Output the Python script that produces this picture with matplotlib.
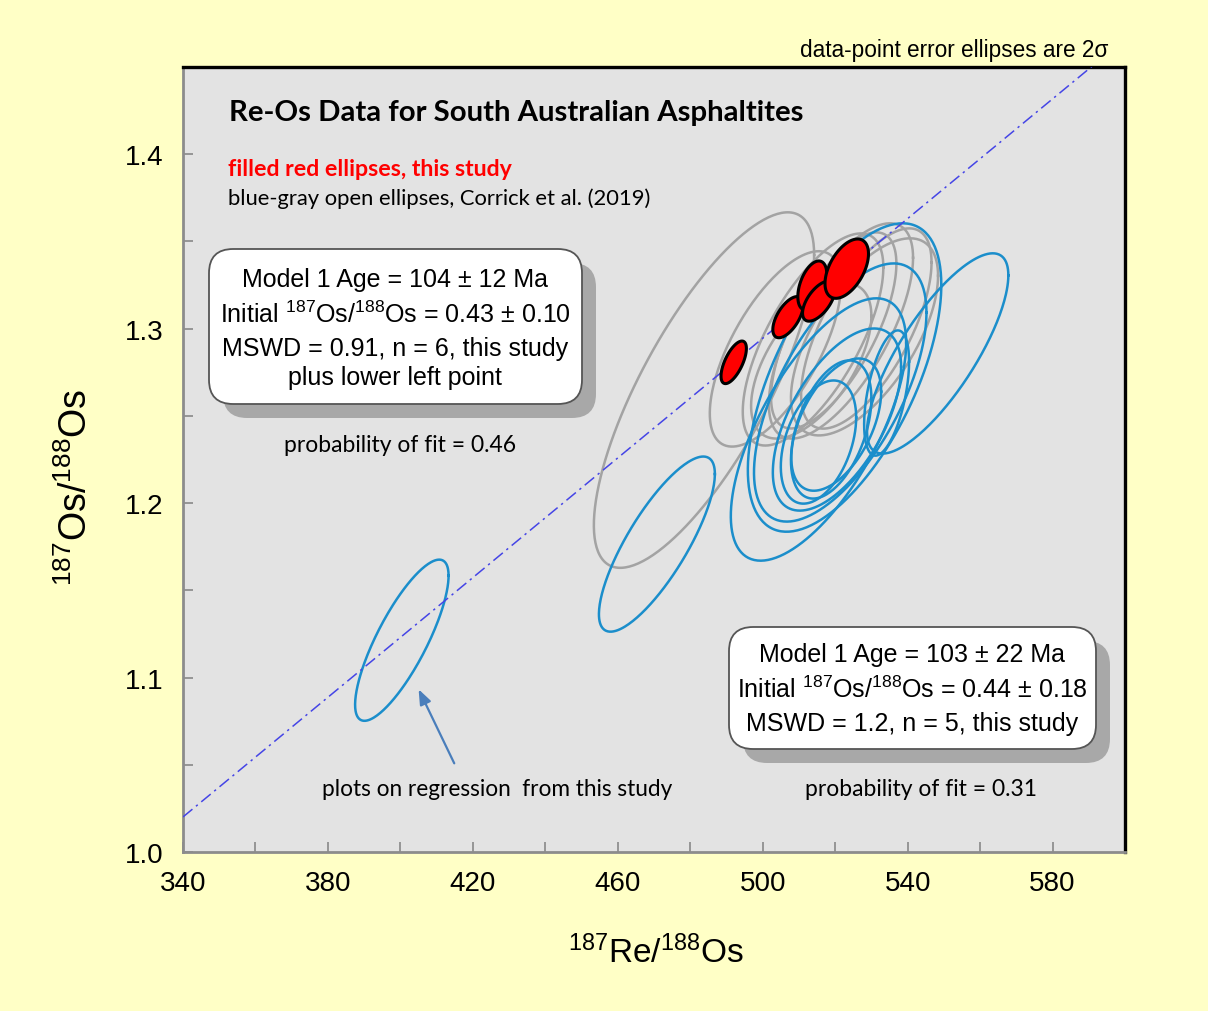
import numpy as np
import matplotlib
matplotlib.use('Agg')
import matplotlib.pyplot as plt
from matplotlib.patches import FancyBboxPatch

plt.rcParams['mathtext.default'] = 'regular'

# 2-sigma error ellipses: centre, half-widths and error correlation
red_x = [492.0, 507.0, 513.7, 515.5, 523.2]
red_y = [1.2807, 1.3066, 1.3247, 1.3158, 1.3344]
red_sx = [3.5, 4.2, 4.0, 4.5, 6.0]
red_sy = [0.0122, 0.0118, 0.0141, 0.0115, 0.0170]
red_rho = [0.65, 0.60, 0.45, 0.60, 0.50]

blue_x = [400.4, 470.8, 548.3, 515.4, 522.6, 521.4, 520.5, 520.3, 534.2, 518.9, 515.4]
blue_y = [1.1214, 1.1765, 1.2858, 1.2422, 1.2720, 1.2634, 1.2479, 1.2450, 1.2631, 1.2422, 1.2350]
blue_sx = [12.9, 16.0, 19.5, 24.2, 26.7, 23.8, 17.7, 12.4, 6.2, 11.1, 10.4]
blue_sy = [0.0462, 0.0502, 0.0574, 0.0752, 0.0884, 0.0740, 0.0522, 0.0379, 0.0359, 0.0396, 0.0353]
blue_rho = [0.80, 0.80, 0.78, 0.66, 0.60, 0.62, 0.58, 0.50, 0.50, 0.45, 0.40]

gray_x = [483.8, 503.5, 513.9, 521.6, 528.1, 528.6, 513.4, 519.6]
gray_y = [1.2648, 1.2884, 1.2938, 1.2987, 1.2953, 1.3001, 1.2815, 1.2990]
gray_sx = [30.4, 18.1, 19.4, 19.9, 20.3, 18.0, 16.6, 17.3]
gray_sy = [0.1019, 0.0560, 0.0608, 0.0617, 0.0565, 0.0574, 0.0445, 0.0562]
gray_rho = [0.76, 0.66, 0.68, 0.68, 0.62, 0.66, 0.58, 0.68]

# isochron regression
slope = 0.001715
intercept = 0.437

box1_lines = ['Model 1 Age = 104 ± 12 Ma',
              r'Initial $^{187}$Os/$^{188}$Os = 0.43 ± 0.10',
              'MSWD = 0.91, n = 6, this study',
              'plus lower left point']
box2_lines = ['Model 1 Age = 103 ± 22 Ma',
              r'Initial $^{187}$Os/$^{188}$Os = 0.44 ± 0.18',
              'MSWD = 1.2, n = 5, this study']

SANS = 'Liberation Sans'
HUMAN = 'Lato'
BLUE = '#1b8ecb'
GRAY = '#a3a3a3'


def ellipse_xy(cx, cy, sx, sy, rho, n=240):
    t = np.linspace(0, 2 * np.pi, n)
    x = cx + sx * np.cos(t)
    y = cy + sy * (rho * np.cos(t) + np.sqrt(1 - rho ** 2) * np.sin(t))
    return x, y


fig = plt.figure(figsize=(12.08, 10.12), dpi=100, facecolor='#ffffc6')
ax = fig.add_axes([183 / 1208, 1 - 853 / 1012, 942 / 1208, 785 / 1012])
ax.set_facecolor('#e3e3e3')
ax.set_xlim(340, 600)
ax.set_ylim(1.0, 1.45)

for i in range(len(gray_x)):
    ex, ey = ellipse_xy(gray_x[i], gray_y[i], gray_sx[i], gray_sy[i], gray_rho[i])
    ax.plot(ex, ey, color=GRAY, lw=1.8, zorder=2)
for i in range(len(blue_x)):
    ex, ey = ellipse_xy(blue_x[i], blue_y[i], blue_sx[i], blue_sy[i], blue_rho[i])
    ax.plot(ex, ey, color=BLUE, lw=1.8, zorder=3)

xl = np.array([340, 600])
ax.plot(xl, intercept + slope * xl, color='#4545e6', lw=1.1, ls=(0, (8, 3, 1.5, 3)), zorder=4)

for i in range(len(red_x)):
    ex, ey = ellipse_xy(red_x[i], red_y[i], red_sx[i], red_sy[i], red_rho[i])
    ax.fill(ex, ey, facecolor='#ff0000', edgecolor='black', lw=2.2, zorder=5)

ax.set_xticks(np.arange(340, 600, 40))
ax.set_xticks(np.arange(360, 600, 40), minor=True)
ax.set_yticks(np.arange(1.0, 1.41, 0.1))
ax.set_yticks(np.arange(1.05, 1.45, 0.1), minor=True)
ax.set_yticklabels(['1.0', '1.1', '1.2', '1.3', '1.4'])
ax.tick_params(which='both', direction='in', length=7, width=1.2, color='#888888',
               top=False, right=False)
ax.tick_params(axis='y', pad=14, labelsize=20)
ax.tick_params(axis='x', pad=13, labelsize=20)
for lab in ax.get_xticklabels() + ax.get_yticklabels():
    lab.set_fontfamily(SANS)
for side in ['left', 'bottom']:
    ax.spines[side].set_color('#8c8c8c')
    ax.spines[side].set_linewidth(2)
for side in ['top', 'right']:
    ax.spines[side].set_color('black')
    ax.spines[side].set_linewidth(2.4)

fig.text(656 / 1208, 1 - 953 / 1012, r'$^{187}$Re/$^{188}$Os', family=SANS, fontsize=24,
         ha='center', va='center')
fig.text(76 / 1208, 1 - 487 / 1012, r'$^{187}$Os/$^{188}$Os', family=SANS, fontsize=27,
         ha='center', va='center', rotation=90)

fig.text(229 / 1208, 1 - 113 / 1012, 'Re-Os Data for South Australian Asphaltites',
         family=HUMAN, fontsize=21.2, fontweight='bold', va='center')
fig.text(228 / 1208, 1 - 170 / 1012, 'filled red ellipses, this study', family=HUMAN,
         fontsize=16.7, fontweight='bold', color='#ff0000', va='center')
fig.text(228 / 1208, 1 - 199 / 1012, 'blue-gray open ellipses, Corrick et al. (2019)',
         family=HUMAN, fontsize=15.8, va='center')
fig.text(1108 / 1208, 1 - 50 / 1012, 'data-point error ellipses are 2σ', family=SANS,
         fontsize=16.3, ha='right', va='center')


def rounded_box(x0, y0, x1, y1, shadow=14):
    # pixel box from the top-left corner, drawn in figure fraction
    asp = 1208 / 1012
    for dx, fc, ec, z in [(shadow, '#a8a8a8', 'none', 6), (0, 'white', '#555555', 7)]:
        p = FancyBboxPatch(((x0 + dx) / 1208, 1 - (y1 + dx) / 1012),
                           (x1 - x0) / 1208, (y1 - y0) / 1012,
                           boxstyle='round,pad=0,rounding_size=0.02',
                           mutation_aspect=asp, transform=fig.transFigure,
                           facecolor=fc, edgecolor=ec, lw=1.3, zorder=z)
        fig.add_artist(p)


rounded_box(209, 250, 582, 405)
for txt, yp in zip(box1_lines, [280, 315, 349, 378]):
    fig.text(395 / 1208, 1 - yp / 1012, txt, family=SANS, fontsize=18,
             ha='center', va='center', zorder=8)

rounded_box(729, 628, 1096, 750)
for txt, yp in zip(box2_lines, [655, 690, 724]):
    fig.text(912 / 1208, 1 - yp / 1012, txt, family=SANS, fontsize=18,
             ha='center', va='center', zorder=8)

fig.text(400 / 1208, 1 - 446 / 1012, 'probability of fit = 0.46', family=HUMAN,
         fontsize=16.5, ha='center', va='center')
fig.text(921 / 1208, 1 - 790 / 1012, 'probability of fit = 0.31', family=HUMAN,
         fontsize=16.5, ha='center', va='center')
fig.text(497 / 1208, 1 - 789 / 1012, 'plots on regression  from this study', family=HUMAN,
         fontsize=16.3, ha='center', va='center')

ax.annotate('', xy=(404.7, 1.0947), xytext=(415.2, 1.0494),
            arrowprops=dict(arrowstyle='-|>,head_length=0.9,head_width=0.35',
                            color='#4a7ebb', lw=1.6), zorder=6)

fig.savefig('out.png', dpi=100, facecolor=fig.get_facecolor())
